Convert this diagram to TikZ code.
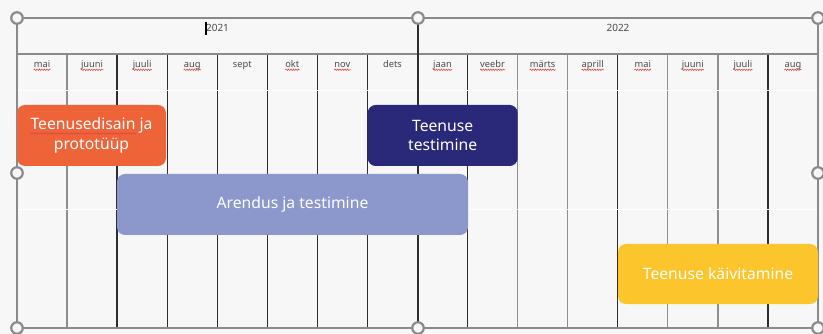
\documentclass[tikz,border=0pt]{standalone}
\usepackage{fontspec}
\setmainfont{Noto Sans}
\usetikzlibrary{decorations.pathmorphing}
\definecolor{bg}{HTML}{F7F7F7}
\definecolor{dline}{HTML}{2E2E2E}
\definecolor{gline}{HTML}{8E8E8E}
\definecolor{frame}{HTML}{8A8A8A}
\definecolor{txt}{HTML}{4A4A4A}
\definecolor{cOrange}{HTML}{EF6339}
\definecolor{cNavy}{HTML}{2A2878}
\definecolor{cLav}{HTML}{8C97CB}
\definecolor{cYellow}{HTML}{FBC52B}
\definecolor{squigred}{HTML}{E04848}
\tikzset{
  month/.style={anchor=base, inner xsep=0pt, inner ysep=1pt, text=txt, font=\fontsize{9.3}{11}\selectfont},
  year/.style={anchor=base, inner sep=0pt, text=txt, font=\fontsize{10}{12}\selectfont},
  bar/.style={rounded corners=8pt, inner sep=0pt, text=white, align=center, font=\fontsize{15.7}{19.5}\selectfont},
  handle/.style={circle, draw=frame, line width=2.2pt, fill=bg, minimum size=11.5pt, inner sep=0pt},
  squig/.style={draw=squigred, line width=0.6pt, decorate, decoration={snake, segment length=2.5pt, amplitude=0.7pt}},
}
\begin{document}
\begin{tikzpicture}[x=1pt,y=-1pt]
\fill[bg] (0,0) rectangle (823,334);
\useasboundingbox (0,0) rectangle (823,334);
% column lines
\foreach \i/\c in {1/gline,2/dline,3/dline,4/dline,5/dline,6/dline,7/dline,9/dline,10/gline,11/gline,12/dline,13/gline,14/gline,15/dline}{
  \draw[\c, line width=1.3pt] ({17+\i*50.0625},54) -- ({17+\i*50.0625},328);
}
% faint row separators
\draw[white, line width=0.8pt] (18,90) -- (817,90);
\draw[white, line width=0.8pt] (18,209) -- (817,209);
% frame
\draw[frame, line width=1.5pt] (17,18) -- (818,18);
\draw[frame, line width=1.3pt] (17,54) -- (818,54);
\draw[frame, line width=1.5pt] (17,18) -- (17,328);
\draw[frame, line width=1.5pt] (818,18) -- (818,328);
\draw[dline, line width=1.5pt] (418,18) -- (418,328);
\draw[frame, line width=2pt] (17,328) -- (818,328);
% years
\node[year] (y1) at (217.5,32) {2021};
\node[year] (y2) at (618,32) {2022};
\fill[black] ([xshift=-0.6pt]y1.base west) ++(0,3) rectangle ++(1.4,-13);
% months
\foreach \i/\m/\s in {0/mai/1,1/juuni/1,2/juuli/1,3/aug/1,4/sept/0,5/okt/1,6/nov/1,7/dets/0,8/jaan/1,9/veebr/1,10/märts/1,11/aprill/1,12/mai/1,13/juuni/1,14/juuli/1,15/aug/1}{
  \node[month] (m\i) at ({17+(\i+0.5)*50.0625},67.5) {\m};
  \ifnum\s=1
    \draw[squig] ([yshift=-2.3pt]m\i.base west) -- ([yshift=-2.3pt]m\i.base east);
  \fi
}
% bars
\node[bar, fill=cOrange, minimum width=149pt, minimum height=61pt] (design) at (91.5,135.5) {Teenusedisain ja\\prototüüp};
\node[bar, fill=cNavy, minimum width=150pt, minimum height=61pt] (test) at (442.7,135.5) {Teenuse\\testimine};
\node[bar, fill=cLav, minimum width=351pt, minimum height=61pt] (dev) at (292.5,204.5) {Arendus ja testimine};
\node[bar, fill=cYellow, minimum width=200pt, minimum height=60pt] (launch) at (718,274) {Teenuse käivitamine};
\draw[squig] (30,133.5) -- (136,133.5);
% selection handles
\node[handle] (h1) at (17,18) {};
\node[handle] (h2) at (418,18) {};
\node[handle] (h3) at (818,18) {};
\node[handle] (h4) at (17,173) {};
\node[handle] (h5) at (818,173) {};
\node[handle] (h6) at (17,328) {};
\node[handle] (h7) at (418,328) {};
\node[handle] (h8) at (818,328) {};
\end{tikzpicture}
\end{document}
